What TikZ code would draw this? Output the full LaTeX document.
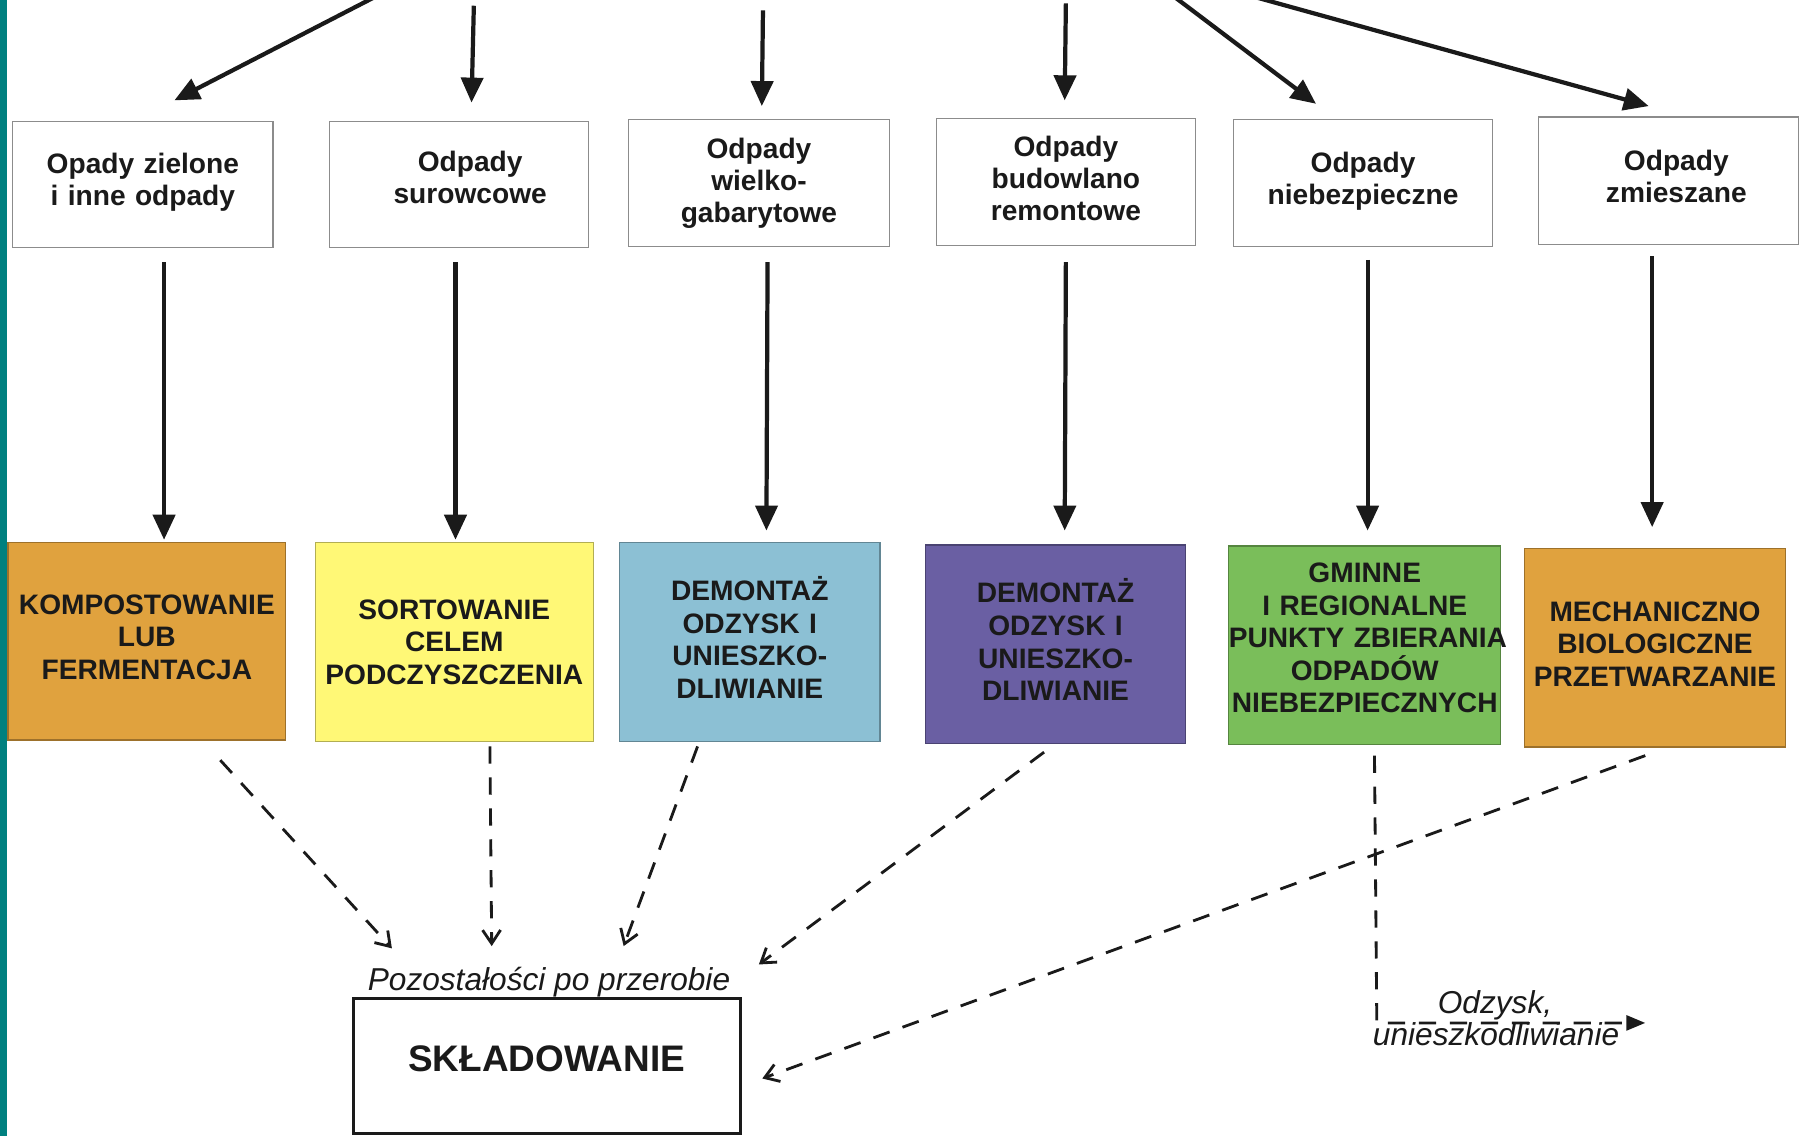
\documentclass[tikz,border=0pt]{standalone}
\usepackage{fontspec}
\setmainfont{Liberation Sans}
\usetikzlibrary{arrows.meta,calc}
\definecolor{tealbar}{HTML}{00807F}
\definecolor{corange}{HTML}{E0A23E}
\definecolor{cyellow}{HTML}{FFF876}
\definecolor{cblue}{HTML}{8CC0D4}
\definecolor{cpurple}{HTML}{6A5FA3}
\definecolor{cgreen}{HTML}{7ABE5A}
\definecolor{ink}{HTML}{1A1A1A}
\begin{document}
\begin{tikzpicture}[x=0.02294cm, y=-0.02294cm,
  topbox/.style={draw=black!45, line width=0.7pt, fill=white, inner sep=0pt,
    align=center, text=ink, font=\bfseries\fontsize{16}{18.2}\selectfont},
  procbox/.style={draw=#1!70!black, fill=#1, line width=0.7pt, inner sep=0pt,
    align=center, text=ink, minimum height=3.969cm,
    font=\bfseries\fontsize{16}{18.5}\selectfont},
  solidarr/.style={draw=ink, line width=2.4pt, -{Triangle[length=0.5cm,width=0.44cm]}},
  dasharr/.style={draw=ink, line width=1.6pt, dash pattern=on 9.8pt off 7.8pt,
    -{Straight Barb[length=0.27cm,width=0.36cm]}},
  dashtri/.style={draw=ink, line width=1.6pt, dash pattern=on 9.8pt off 7.8pt,
    -{Triangle[length=0.38cm,width=0.3cm]}},
  itlabel/.style={anchor=base, inner sep=0pt, text=ink, font=\itshape\fontsize{18}{20}\selectfont}
]
\useasboundingbox (0,0) rectangle (1568,990);
\begin{scope}
\clip (0,0) rectangle (1568,990);
\fill[white] (0,0) rectangle (1568,990);
\fill[tealbar] (0,0) rectangle (6,990);

% top boxes
\node[topbox, text width=5.207cm, minimum height=2.523cm] (t1) at (124.5,161) {Opady zielone\\i inne odpady\par\vspace{0.11cm}};
\node[topbox, text width=5.184cm, minimum height=2.523cm] (t2) at (400,161) {\hspace*{0.45cm}Odpady\\\hspace*{0.45cm}surowcowe\par\vspace{0.28cm}};
\node[topbox, text width=5.207cm, minimum height=2.546cm] (t3) at (661.5,159.5) {Odpady\\wielko-\\gabarytowe};
\node[topbox, text width=5.184cm, minimum height=2.546cm] (t4) at (929,158.5) {Odpady\\budowlano\\remontowe\par\vspace{0.14cm}};
\node[topbox, text width=5.184cm, minimum height=2.546cm] (t5) at (1188,159.5) {Odpady\\niebezpieczne\par\vspace{0.09cm}};
\node[topbox, text width=5.207cm, minimum height=2.546cm] (t6) at (1454.5,157.5) {\hspace*{0.3cm}Odpady\\\hspace*{0.3cm}zmieszane\par\vspace{0.18cm}};

% process boxes
\node[procbox=corange, text width=5.551cm, minimum height=3.946cm] (c1) at (128,559) {KOMPOSTOWANIE\\LUB\\FERMENTACJA\par\vspace{0.18cm}};
\node[procbox=cyellow, text width=5.551cm] (c2) at (396,559.5) {SORTOWANIE\\CELEM\\PODCZYSZCZENIA};
\node[procbox=cblue, text width=5.207cm] (c3) at (653.5,559.5) {DEMONTAŻ\\ODZYSK I\\UNIESZKO-\\DLIWIANIE\par\vspace{0.18cm}};
\node[procbox=cpurple, text width=5.184cm] (c4) at (920,561.5) {DEMONTAŻ\\ODZYSK I\\UNIESZKO-\\DLIWIANIE\par\vspace{0.18cm}};
\node[procbox=cgreen, text width=5.437cm] (c5) at (1189.5,562.5) {GMINNE\\I REGIONALNE\\\mbox{PUNKTY ZBIERANIA}\\ODPADÓW\\NIEBEZPIECZNYCH\par\vspace{0.3cm}};
\node[procbox=corange, text width=5.207cm] (c6) at (1442.5,564.5) {MECHANICZNO\\BIOLOGICZNE\\PRZETWARZANIE\par\vspace{0.14cm}};

% storage box
\node[draw=ink, line width=1.8pt, fill=white, minimum width=7.731cm, minimum height=2.707cm,
  inner sep=0pt, text depth=0.275cm, text=ink, font=\bfseries\fontsize{21}{24}\selectfont] (skl) at (476.5,929) {SKŁADOWANIE};
\node[itlabel] (poz) at ($(skl.north)+(2,-5)$) {Pozostałości po przerobie};

% incoming arrows from above
\coordinate (s1) at (341,-10);
\coordinate (s2) at (413,5);
\coordinate (s3) at (665,9);
\coordinate (s4) at (929,3);
\coordinate (s5) at (1014,-10);
\coordinate (s6) at (1067,-10);
\draw[solidarr] (s1) -- ($(t1.north)+(27.5,-18)$);
\draw[solidarr] (s2) -- ($(t2.north)+(11,-16)$);
\draw[solidarr] (s3) -- ($(t3.north)+(2.5,-11)$);
\draw[solidarr] (s4) -- ($(t4.north)+(-1,-15)$);
\draw[solidarr] (s5) -- ($(t5.north)+(-41,-13)$);
\draw[solidarr] (s6) -- ($(t6.north)+(-17.5,-9)$);

% top boxes to process boxes
\draw[solidarr] ($(t1.south)+(18.5,12)$) -- ($(c1.north)+(15,-2)$);
\draw[solidarr] ($(t2.south)+(-3,12)$) -- ($(c2.north)+(1,-2)$);
\draw[solidarr] ($(t3.south)+(7.5,13)$) -- ($(c3.north)+(14.5,-10)$);
\draw[solidarr] ($(t4.south)+(0,14)$) -- ($(c4.north)+(8,-12)$);
\draw[solidarr] ($(t5.south)+(4,11)$) -- ($(c5.north)+(2.5,-13)$);
\draw[solidarr] ($(t6.south)+(-14.5,10)$) -- ($(c6.north)+(-2.5,-18)$);

% residues to storage
\draw[dasharr] ($(c1.south)+(64,17)$) -- ($(skl.north west)+(35,-42)$);
\draw[dasharr] ($(c2.south)+(31,4)$) -- ($(skl.north west)+(122,-44)$);
\draw[dasharr] ($(c3.south)+(-45.5,4)$) -- ($(skl.north west)+(237,-44)$);
\draw[dasharr] ($(c4.south)+(-10,7)$) -- ($(skl.north east)+(15,-28)$);
\draw[dasharr] ($(c6.south)+(-8.5,7)$) -- ($(skl.east)+(18,11)$);

% recovery branch
\coordinate (bend) at ($(c5.south)+(10.5,242)$);
\coordinate (odzend) at ($(bend)+(234,0)$);
\draw[dashtri] ($(c5.south)+(8.5,9)$) -- (bend) -- (odzend);
\node[itlabel] (odz1) at ($(bend)+(103,-8)$) {Odzysk,};
\node[itlabel] (odz2) at ($(bend)+(104,20)$) {unieszkodliwianie};
\end{scope}
\end{tikzpicture}
\end{document}
